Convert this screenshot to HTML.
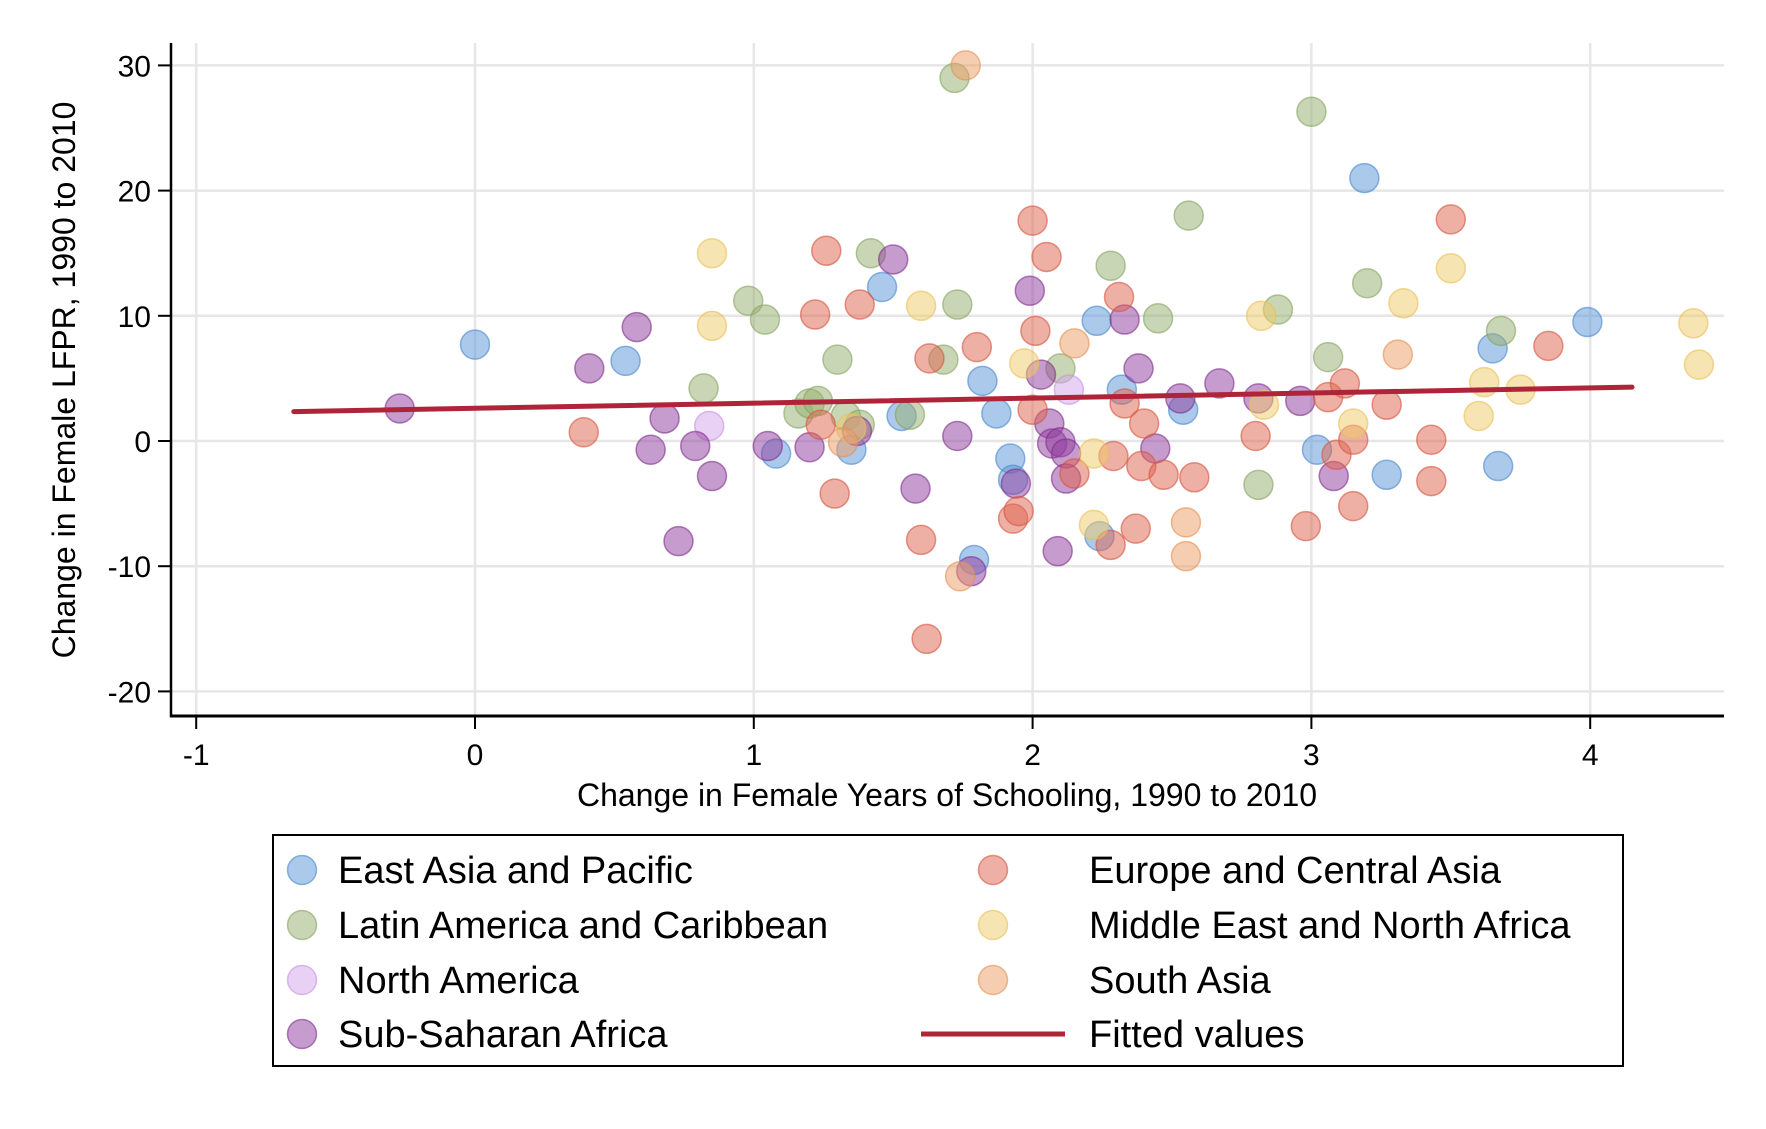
<!DOCTYPE html>
<html><head><meta charset="utf-8"><style>
html,body{margin:0;padding:0;background:#fff;}
svg text{font-family:"Liberation Sans",Arial,sans-serif;}
</style></head><body>
<svg id="chart" width="1766" height="1124" viewBox="0 0 1766 1124" xmlns="http://www.w3.org/2000/svg">
<rect width="1766" height="1124" fill="#fff"/>
<g id="grid"></g>
<g id="pts"></g>
<g id="fit"></g>
<g id="axes"></g>
<text x="947" y="806" font-size="32" text-anchor="middle">Change in Female Years of Schooling, 1990 to 2010</text>
<text transform="translate(75,380) rotate(-90)" font-size="32" text-anchor="middle">Change in Female LFPR, 1990 to 2010</text>
<g id="legend">
<rect x="273" y="835" width="1350" height="231" fill="#fff" stroke="#000" stroke-width="2"/>
</g>
</svg>
<script>
const xTicks=[-1,0,1,2,3,4];
const yTicks=[-20,-10,0,10,20,30];
const seriesNames=["East Asia and Pacific","Latin America and Caribbean","North America","Sub-Saharan Africa","Europe and Central Asia","Middle East and North Africa","South Asia"];
const eapX=[0,0.54,1.46,1.08,1.35,1.53,1.82,1.87,1.79,1.92,1.93,2.23,2.32,2.24,2.54,3.19,3.02,3.27,3.65,3.67,3.99];
const eapY=[7.7,6.4,12.3,-1,-0.7,2,4.8,2.2,-9.5,-1.4,-3.1,9.6,4.1,-7.6,2.5,21,-0.7,-2.7,7.4,-2,9.5];
const lacX=[0.82,0.98,1.04,1.16,1.2,1.23,1.3,1.33,1.38,1.42,1.56,1.68,1.72,1.73,2.1,2.28,2.45,2.56,2.81,2.88,3,3.06,3.2,3.68];
const lacY=[4.2,11.2,9.7,2.2,3,3.2,6.5,2,1.3,15,2.1,6.5,29,10.9,5.8,14,9.8,18,-3.5,10.5,26.3,6.7,12.6,8.8];
const naX=[0.84,2.13];
const naY=[1.2,4.1];
const ssaX=[-0.27,0.41,0.58,0.63,0.68,0.79,0.85,0.73,1.05,1.2,1.37,1.5,1.58,1.73,1.78,1.94,1.99,2.03,2.06,2.07,2.1,2.12,2.12,2.09,2.33,2.38,2.44,2.53,2.67,2.81,2.96,3.08];
const ssaY=[2.6,5.8,9.1,-0.7,1.8,-0.4,-2.8,-8,-0.4,-0.5,0.8,14.5,-3.8,0.4,-10.4,-3.4,12,5.3,1.4,-0.2,-0.1,-1,-3,-8.8,9.7,5.8,-0.6,3.4,4.6,3.4,3.2,-2.8];
const ecaX=[0.39,1.22,1.26,1.24,1.29,1.38,1.6,1.62,1.63,1.8,1.93,1.95,2.0,2.0,2.01,2.05,2.15,2.31,2.33,2.29,2.28,2.37,2.4,2.39,2.47,2.58,2.8,2.98,3.06,3.09,3.12,3.15,3.15,3.27,3.43,3.43,3.5,3.85];
const ecaY=[0.7,10.1,15.2,1.3,-4.2,10.9,-7.9,-15.8,6.6,7.5,-6.2,-5.6,17.6,2.5,8.8,14.7,-2.6,11.5,3,-1.2,-8.3,-7,1.4,-2,-2.7,-2.9,0.4,-6.8,3.5,-1.1,4.6,0.1,-5.2,2.9,0.1,-3.2,17.7,7.6];
const menaX=[0.85,0.85,1.35,1.6,1.97,2.22,2.22,2.82,2.83,3.15,3.33,3.5,3.6,3.62,3.75,4.37,4.39];
const menaY=[15,9.2,1,10.8,6.2,-6.7,-1,10,2.9,1.4,11,13.8,2,4.7,4.1,9.4,6.1];
const saX=[1.76,1.32,1.74,2.15,2.55,2.55,3.31];
const saY=[30,-0.1,-10.8,7.8,-6.5,-9.2,6.9];
const fitX=[-0.65,4.15];
const fitY=[2.35,4.3];

const NS="http://www.w3.org/2000/svg";
const X0=475,XS=278.8,Y0=441,YS=12.52;
function sx(v){return X0+v*XS;}
function sy(v){return Y0-v*YS;}
function mk(tag,attrs,parent){const e=document.createElementNS(NS,tag);for(const k in attrs)e.setAttribute(k,attrs[k]);parent.appendChild(e);return e;}
const L=171,R=1724,T=43,B=716;
const grid=document.getElementById('grid'),axes=document.getElementById('axes');
xTicks.forEach(t=>{
  const g=mk('line',{x1:sx(t),x2:sx(t),y1:T,y2:B,stroke:'#e6e6e6','stroke-width':2.5},grid);
  
  
  const tk=mk('line',{x1:sx(t),x2:sx(t),y1:B,y2:B+13,stroke:'#000','stroke-width':2},axes);
  
  
  const tx=mk('text',{x:sx(t),y:B+49,'font-size':30,'text-anchor':'middle'},axes);
  tx.textContent=String(t);
  
  
});
yTicks.forEach(t=>{
  const g=mk('line',{x1:L,x2:R,y1:sy(t),y2:sy(t),stroke:'#e6e6e6','stroke-width':2.5},grid);
  
  
  const tk=mk('line',{x1:L-13,x2:L,y1:sy(t),y2:sy(t),stroke:'#000','stroke-width':2},axes);
  
  
  const tx=mk('text',{x:L-20,y:sy(t)+11,'font-size':30,'text-anchor':'end'},axes);
  tx.textContent=String(t);
  
  
});
const ax1=mk('line',{x1:L,x2:L,y1:T,y2:B+1,stroke:'#000','stroke-width':2.5},axes);


const ax2=mk('line',{x1:L-1,x2:R,y1:B,y2:B,stroke:'#000','stroke-width':3},axes);



const fills=['#5d97d6','#97b072','#d4a6ec','#92409f','#de6650','#f0cc6e','#eba06a'];
const strokes=['#4a87cc','#86a360','#c890e0','#7e2e8c','#d45540','#e9be55','#e58f52'];
const xs=[eapX,lacX,naX,ssaX,ecaX,menaX,saX],ys=[eapY,lacY,naY,ssaY,ecaY,menaY,saY];
const keys=['east-asia','latin-america','north-america','sub-saharan-africa','europe-central-asia','mena','south-asia'];
const pts=document.getElementById('pts');
xs.forEach((arr,si)=>{
  arr.forEach((v,i)=>{
    const c=mk('circle',{cx:sx(v),cy:sy(ys[si][i]),r:14.5,fill:fills[si],'fill-opacity':0.52,stroke:strokes[si],'stroke-opacity':0.6,'stroke-width':1.5},pts);
    
    
  });
});
const fl=mk('line',{x1:sx(fitX[0]),y1:sy(fitY[0]),x2:sx(fitX[1]),y2:sy(fitY[1]),stroke:'#b0243a','stroke-width':5,'stroke-linecap':'round'},document.getElementById('fit'));



const leg=document.getElementById('legend');
const pos=[[0,0],[0,1],[0,2],[0,3],[1,0],[1,1],[1,2]];
const rowsY=[870,925,980,1034];
seriesNames.forEach((nm,si)=>{
  const [col,row]=pos[si];
  const mx=col?993:302, tx=col?1089:338;
  const c=mk('circle',{cx:mx,cy:rowsY[row],r:14.5,fill:fills[si],'fill-opacity':0.52,stroke:strokes[si],'stroke-opacity':0.6,'stroke-width':1.5},leg);
  
  
  const t=mk('text',{x:tx,y:rowsY[row]+13,'font-size':38},leg);
  t.textContent=nm;
  
  
});
const ll=mk('line',{x1:921,x2:1065,y1:rowsY[3],y2:rowsY[3],stroke:'#b0243a','stroke-width':5},leg);


const lt=mk('text',{x:1089,y:rowsY[3]+13,'font-size':38},leg);
lt.textContent='Fitted values';


</script>
</body></html>
